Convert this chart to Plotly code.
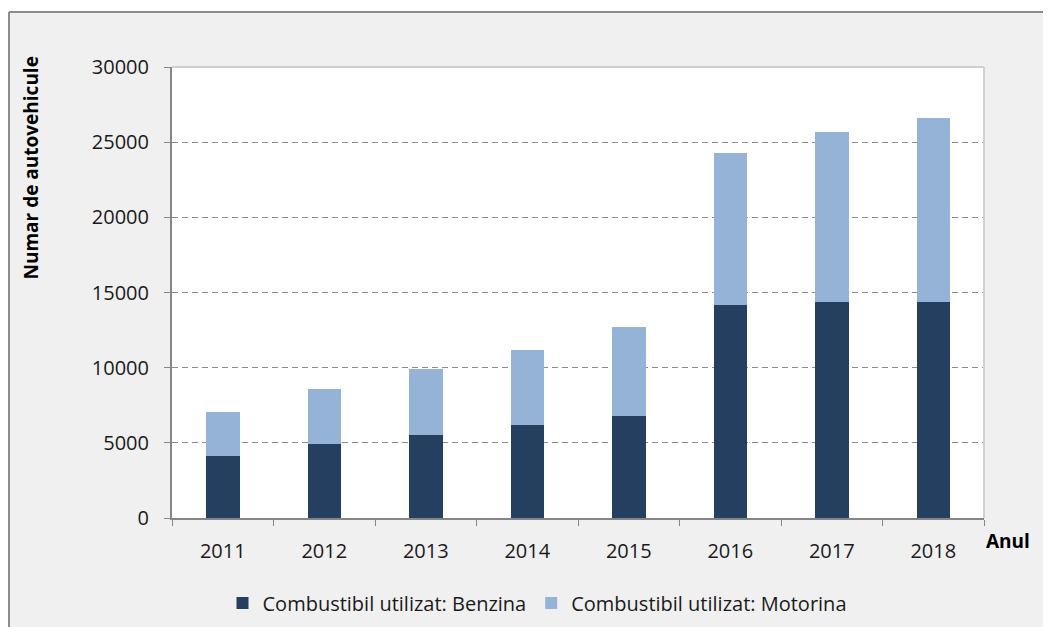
import plotly.graph_objects as go

years = ["2011", "2012", "2013", "2014", "2015", "2016", "2017", "2018"]
benzina = [4100, 4900, 5500, 6200, 6800, 14200, 14400, 14400]
motorina = [2950, 3700, 4400, 5000, 5900, 10100, 11250, 12200]
y_ticks = [0, 5000, 10000, 15000, 20000, 25000, 30000]

FONT = "Open Sans"

# the page puts the figure 8px in from the top-left corner
W, H = 1043, 619
ML, MR, MT, MB = 164, 67, 59, 109
PW = W - ML - MR
PH = H - MT - MB


def px_x(x):
    return (x - 8 - ML) / PW


def px_y(y):
    return (H - MB - (y - 8)) / PH


def create_plot():
    fig = go.Figure()

    fig.add_trace(go.Bar(
        x=years, y=benzina,
        name="Combustibil utilizat: Benzina",
        marker=dict(color="#243F60", line=dict(width=0)),
    ))
    fig.add_trace(go.Bar(
        x=years, y=motorina,
        name="Combustibil utilizat: Motorina",
        marker=dict(color="#95B3D7", line=dict(width=0)),
    ))

    fig.update_layout(
        barmode="stack",
        bargap=0.67,
        width=W,
        height=H,
        margin=dict(l=ML, r=MR, t=MT, b=MB, autoexpand=False),
        paper_bgcolor="#F0F0F0",
        plot_bgcolor="#FFFFFF",
        font=dict(family=FONT, size=20, color="#1A1A1A"),
        showlegend=True,
        legend=dict(
            orientation="h",
            x=px_x(537), xanchor="center",
            y=px_y(603), yanchor="middle",
            font=dict(size=20),
            bgcolor="rgba(0,0,0,0)",
            itemwidth=30,
            traceorder="normal",
        ),
        shapes=[
            # white strip above the frame
            dict(type="rect", xref="paper", yref="paper", x0=px_x(0), x1=px_x(1060),
                 y0=px_y(12), y1=px_y(0), fillcolor="#FFFFFF", line=dict(width=0)),
            # outer frame (left + top)
            dict(type="line", xref="paper", yref="paper", x0=px_x(9), x1=px_x(1060),
                 y0=px_y(12), y1=px_y(12), line=dict(color="#8C8C8C", width=2)),
            dict(type="line", xref="paper", yref="paper", x0=px_x(9), x1=px_x(9),
                 y0=px_y(640), y1=px_y(12), line=dict(color="#8C8C8C", width=2)),
            # plot area top/right border
            dict(type="line", xref="paper", yref="paper", x0=0, x1=1,
                 y0=1, y1=1, line=dict(color="#D0D0D0", width=2)),
            dict(type="line", xref="paper", yref="paper", x0=1, x1=1,
                 y0=0, y1=1, line=dict(color="#D0D0D0", width=2)),
        ],
        annotations=[
            dict(text="<b>Numar de autovehicule</b>", textangle=-90,
                 xref="paper", yref="paper", x=px_x(30), y=px_y(55),
                 xanchor="center", yanchor="top", showarrow=False,
                 font=dict(size=19, color="#000000")),
            dict(text="<b>Anul</b>", xref="paper", yref="paper",
                 x=px_x(984), y=px_y(541), xanchor="left", yanchor="middle",
                 showarrow=False, font=dict(size=19, color="#000000")),
        ],
    )

    fig.update_xaxes(
        type="category",
        showline=True, linecolor="#868686", linewidth=2,
        ticks="outside", tickson="boundaries", ticklen=6,
        tickcolor="#868686", tickwidth=1,
        showgrid=False,
        ticklabelstandoff=14,
    )

    fig.update_yaxes(
        range=[0, 30000],
        tickvals=y_ticks,
        tickformat="d",
        showline=True, linecolor="#868686", linewidth=2,
        ticks="outside", ticklen=6, tickcolor="#868686",
        showgrid=True, gridcolor="#8C8C8C", griddash="6px,4px", gridwidth=1,
        zeroline=False,
        ticklabelstandoff=11,
    )

    return fig


fig = create_plot()
fig.write_html("out.html")
